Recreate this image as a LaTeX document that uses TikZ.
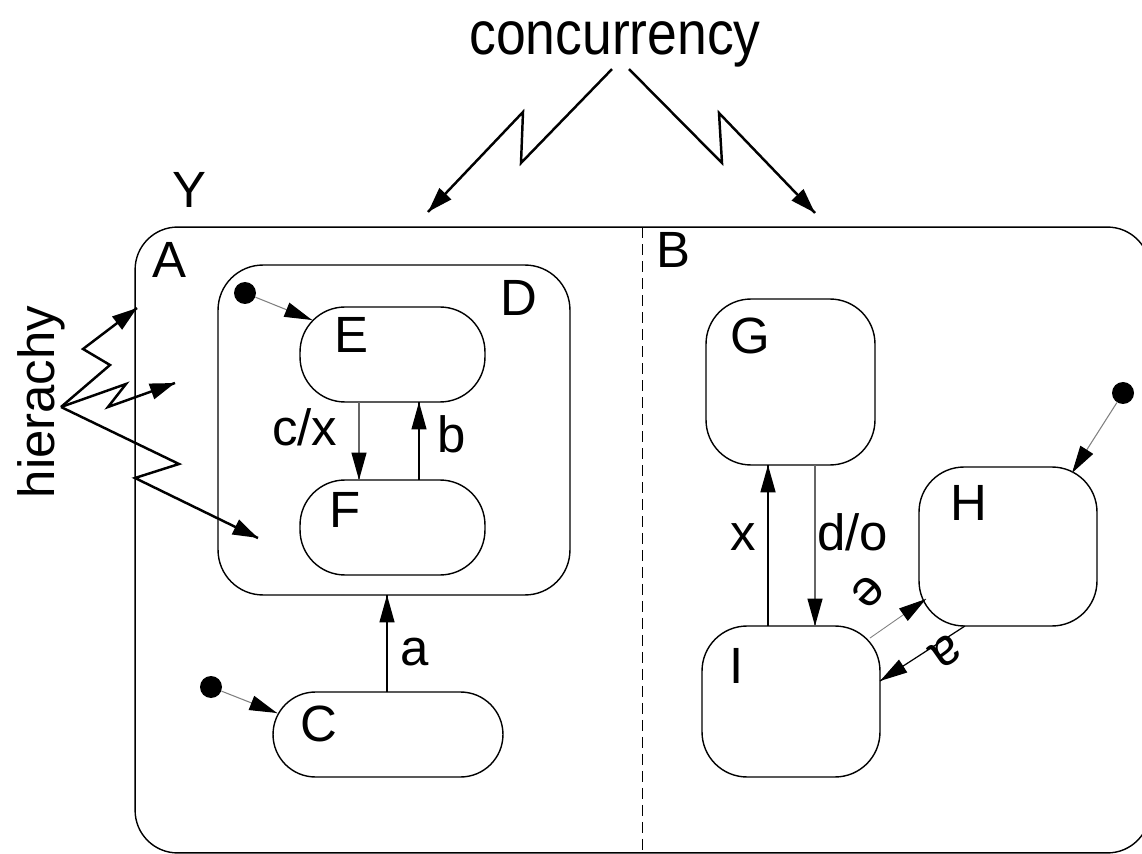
\documentclass[tikz,border=0pt]{standalone}
\usepackage{fontspec}
\setmainfont{Liberation Sans}
\usetikzlibrary{calc,arrows.meta,decorations.markings}
\tikzset{headptr/.style={decoration={markings,mark=at position 1 with %
    {\arrow[black]{Triangle[length=0.55cm,width=0.3cm]}}},postaction={decorate}}}
\tikzset{zigptr/.style={line width=1.4pt,decoration={markings,mark=at position 1 with %
    {\arrow{Triangle[length=0.5cm,width=0.32cm]}}},postaction={decorate}}}
\tikzset{state/.style={draw,line width=0.8pt,rounded corners=0.9cm,inner sep=0,outer sep=0}}
\tikzset{initdot/.style={circle,fill,inner sep=0,minimum size=0.44cm}}
\tikzset{lbl/.style={anchor=base west,inner sep=0}}

\begin{document}
\begin{tikzpicture}[x=0.02cm,y=-0.02cm,every node/.style={font=\fontsize{29}{34}\selectfont}]

	  \useasboundingbox (0,0) rectangle (1142,854);

	  % outer state and its two regions
	  \node [state,rounded corners=0.85cm,minimum width=20.3cm,minimum height=12.52cm] (Y) at (642.5,540) {};
	  \draw [dash pattern=on 0.22cm off 0.12cm,line width=0.6pt] (Y.north) -- (Y.south);

	  \node [lbl] (lY) at (172,208) {Y};
	  \node [lbl] (lA) at (152,278) {A};
	  \node [lbl] (lB) at (656,268) {B};

	  % region A
	  \node [state,minimum width=7.04cm,minimum height=6.6cm] (D) at (394,430) {};
	  \node [lbl] (lD) at (500,316) {D};

	  \node [state,minimum width=3.7cm,minimum height=1.9cm] (E) at (392.5,354.5) {};
	  \node [state,minimum width=3.7cm,minimum height=1.9cm] (F) at (392.5,527.5) {};
	  \node [state,rounded corners=0.85cm,minimum width=4.6cm,minimum height=1.7cm] (C) at (388,734.5) {};

	  \node [lbl] (lE) at (334,353) {E};
	  \node [lbl] (lF) at (329,527) {F};
	  \node [lbl] (lC) at (300,741) {C};

	  \node [initdot] (dD) at (245,293) {};
	  \node [initdot] (dC) at (211,687) {};
	  \draw [headptr,gray,line width=0.6pt] (dD) -- ($(E.north west)+(12,13)$);
	  \draw [headptr,gray,line width=0.6pt] (dC) -- ($(C.north west)+(4,21)$);

	  \draw [headptr,black!60,line width=0.8pt] ($(E.south)+(-33.5,0)$) coordinate (cx) -- (cx |- F.north);
	  \draw [headptr,line width=0.7pt] ($(F.north)+(26.5,0)$) coordinate (cb) -- (cb |- E.south);
	  \draw [headptr,line width=0.8pt] ($(C.north)+(-1,0)$) coordinate (ca) -- (ca |- D.south);

	  \node [lbl] (tcx) at (272,445) {c/x};
	  \node [lbl] (tb) at (437,453) {b};
	  \node [lbl] (ta) at (400,665) {a};

	  % region B
	  \node [state,minimum width=3.38cm,minimum height=3.32cm] (G) at (790.5,382) {};
	  \node [state,minimum width=3.56cm,minimum height=3.18cm] (H) at (1008,546.5) {};
	  \node [state,minimum width=3.56cm,minimum height=3.02cm] (I) at (791,701.5) {};

	  \node [lbl] (lG) at (730,354) {G};
	  \node [lbl] (lH) at (950,520) {H};
	  \node [lbl] (lI) at (729,683) {I};

	  \node [initdot] (dH) at (1123,393) {};
	  \draw [headptr,gray,line width=0.6pt] (dH) -- ($(H.north east)+(-25,6)$);

	  \draw [headptr,line width=1pt] ($(I.north)+(-23,0)$) coordinate (ix) -- (ix |- G.south);
	  \draw [headptr,black!60,line width=0.8pt] ($(G.south)+(24.5,0)$) coordinate (gd) -- (gd |- I.north);
	  \draw [headptr,gray,line width=0.5pt] ($(I.north east)+(-10,12)$) -- ($(H.south west)+(7,-27)$);
	  \draw [headptr,line width=0.7pt] ($(H.south west)+(46,0)$) -- ($(I.north east)+(0,55)$);

	  \node [lbl] (tx) at (730,550) {x};
	  \node [lbl] (tdo) at (817,550) {d/o};
	  \node [inner sep=0,rotate=-135] (te) at (868,592) {e};
	  \node [inner sep=0,rotate=-145] (ta2) at (946,652) {a};

	  % concurrency
	  \node [inner sep=0,anchor=base,xscale=1.05,yscale=1.2] (conc) at (615,55) {concurrency};
	  \coordinate (cL) at (428,212);
	  \coordinate (cR) at (815,213);
	  \draw [zigptr] ($(conc.south)+(-3,1)$) -- (521,163) -- (523,112) -- (cL);
	  \draw [zigptr] ($(conc.south)+(14,1)$) -- (722,163) -- (719,113) -- (cR);

	  % hierachy
	  \node [inner sep=0,anchor=south,rotate=90] (hier) at (65,402) {hierachy};
	  \coordinate (hs) at ($(hier.south)+(-4,5)$);
	  \coordinate (h1) at (137,308);
	  \coordinate (h2) at (175,383);
	  \coordinate (h3) at (258,538);
	  \draw [zigptr] (hs) -- (110,365) -- (83,349) -- (h1);
	  \draw [zigptr] (hs) -- (126,384) -- (108,407) -- (h2);
	  \draw [zigptr] (hs) -- (179,464) -- (135,478) -- (h3);

\end{tikzpicture}
\end{document}
